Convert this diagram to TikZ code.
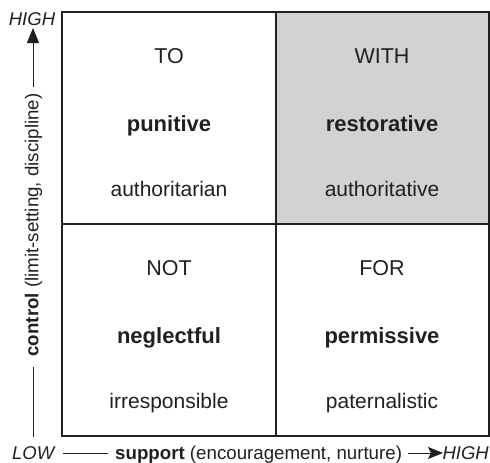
\documentclass[tikz,border=0pt]{standalone}
\usepackage{fontspec}
\setmainfont{Liberation Sans}
\usetikzlibrary{arrows.meta}
\definecolor{cellgray}{HTML}{D1D2D4}
\definecolor{ink}{HTML}{231F20}
\begin{document}
\begin{tikzpicture}[x=1pt,y=-1pt,
  every node/.style={text=ink, inner sep=0pt},
  cellword/.style={anchor=base, font=\fontsize{21.5}{24}\selectfont},
  cellbold/.style={anchor=base, font=\fontsize{22}{25}\selectfont\bfseries},
  cellsub/.style={anchor=base, font=\fontsize{21}{24}\selectfont},
  axislbl/.style={font=\fontsize{18.7}{21}\selectfont},
  axisend/.style={font=\fontsize{18.5}{21}\selectfont\itshape},
  axisline/.style={draw=ink, line width=1pt},
  axisarrow/.style={draw=ink, line width=1pt, -{Triangle[length=15pt,width=12pt]}},
  haxisarrow/.style={draw=ink, line width=1pt, -{Stealth[length=15pt,width=12pt,inset=3pt]}},
  gridline/.style={draw=ink, line width=1.1pt}]
\useasboundingbox (0,0) rectangle (490,463);
\fill[cellgray] (276,12) rectangle (489,224);
\draw[gridline] (62,12) rectangle (489,436);
\draw[gridline] (276,12) -- (276,436);
\draw[gridline] (62,224) -- (489,224);
% top-left
\node[cellword] (to) at (169,63) {TO};
\node[cellbold] (pun) at (169,131) {punitive};
\node[cellsub] (auth1) at (169,196) {authoritarian};
% top-right
\node[cellword] (with) at (382,63) {WITH};
\node[cellbold] (rest) at (382,131) {restorative};
\node[cellsub] (auth2) at (382,196) {authoritative};
% bottom-left
\node[cellword] (not) at (169,275) {NOT};
\node[cellbold] (negl) at (169,343) {neglectful};
\node[cellsub] (irr) at (169,408) {irresponsible};
% bottom-right
\node[cellword] (for) at (382,275) {FOR};
\node[cellbold] (perm) at (382,343) {permissive};
\node[cellsub] (pat) at (382,408) {paternalistic};
% vertical axis
\node[axisend, anchor=base] (vhigh) at (32,25) {HIGH};
\node[axislbl, rotate=90] (vlab) at (33.5,225) {\textbf{control} (limit-setting, discipline)};
\coordinate (vtop) at (33,28);
\coordinate (vbot) at (33,437);
\coordinate (vlabtop) at (33,87);
\coordinate (vlabbot) at (33,367);
\draw[axisarrow] (vlabtop) -- (vtop);
\draw[axisline] (vlabbot) -- (vbot);
% horizontal axis
\node[axisend, anchor=base west] (hlow) at (12,459) {LOW};
\node[axisend, anchor=base east] (hhigh) at (489,459) {HIGH};
\node[axislbl, anchor=base west] (hlab) at (115,459) {\textbf{support} (encouragement, nurture)};
\coordinate (hl1) at (63,453);
\coordinate (hl2) at (108,453);
\coordinate (ha1) at (408,453);
\coordinate (ha2) at (443,453);
\draw[axisline] (hl1) -- (hl2);
\draw[haxisarrow] (ha1) -- (ha2);
\end{tikzpicture}
\end{document}
